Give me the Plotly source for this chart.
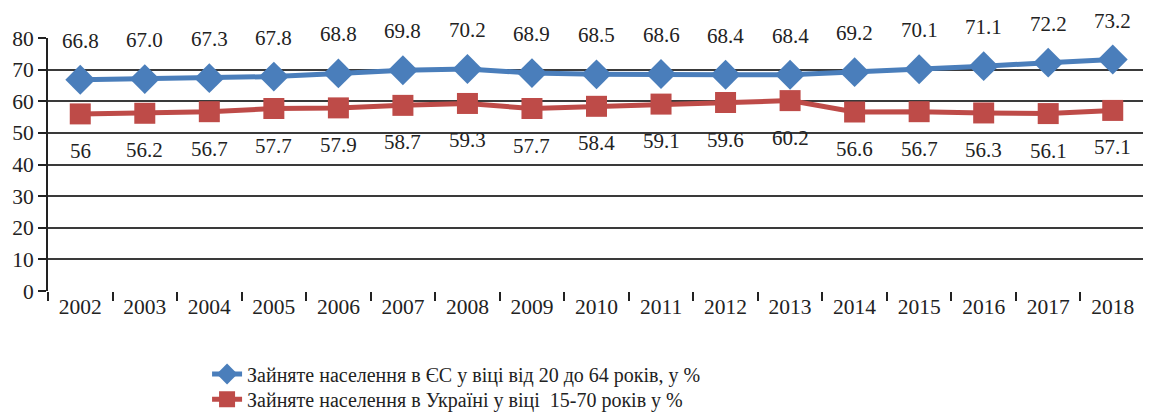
import plotly.graph_objects as go

years = ["2002", "2003", "2004", "2005", "2006", "2007", "2008", "2009", "2010",
         "2011", "2012", "2013", "2014", "2015", "2016", "2017", "2018"]
eu_values = [66.8, 67.0, 67.3, 67.8, 68.8, 69.8, 70.2, 68.9, 68.5, 68.6, 68.4, 68.4,
             69.2, 70.1, 71.1, 72.2, 73.2]
eu_labels = ["66.8", "67.0", "67.3", "67.8", "68.8", "69.8", "70.2", "68.9", "68.5",
             "68.6", "68.4", "68.4", "69.2", "70.1", "71.1", "72.2", "73.2"]
ua_values = [56, 56.2, 56.7, 57.7, 57.9, 58.7, 59.3, 57.7, 58.4, 59.1, 59.6, 60.2,
             56.6, 56.7, 56.3, 56.1, 57.1]
ua_labels = ["56", "56.2", "56.7", "57.7", "57.9", "58.7", "59.3", "57.7", "58.4",
             "59.1", "59.6", "60.2", "56.6", "56.7", "56.3", "56.1", "57.1"]
y_ticks = [0, 10, 20, 30, 40, 50, 60, 70, 80]

eu_name = "Зайняте населення в ЄС у віці від 20 до 64 років, у %"
ua_name = "Зайняте населення в Україні у віці  15-70 років у %"

FONT = '"Liberation Serif", "Times New Roman", serif'
xs = list(range(len(years)))

fig = go.Figure()
fig.add_trace(go.Scatter(
    x=xs, y=eu_values, name=eu_name, mode="lines+markers", legend="legend",
    line=dict(color="#4A7EBB", width=5),
    marker=dict(symbol="diamond", size=23, color="#4A7EBB"),
))
fig.add_trace(go.Scatter(
    x=xs, y=ua_values, name=ua_name, mode="lines+markers", legend="legend2",
    line=dict(color="#BE4B48", width=5),
    marker=dict(symbol="square", size=21, color="#BE4B48"),
))

for x, v, t in zip(xs, eu_values, eu_labels):
    fig.add_annotation(x=x, y=v, text=t, showarrow=False, yshift=39,
                       font=dict(family=FONT, size=21, color="#222"))
for x, v, t in zip(xs, ua_values, ua_labels):
    fig.add_annotation(x=x, y=v, text=t, showarrow=False, yshift=-37,
                       font=dict(family=FONT, size=21, color="#222"))

legend_common = dict(xanchor="left", yanchor="middle",
                     font=dict(family=FONT, size=20, color="#222"),
                     itemwidth=30, bgcolor="rgba(0,0,0,0)")

fig.update_layout(
    width=1143, height=406,
    margin=dict(l=40, r=6, t=30, b=123, autoexpand=False),
    paper_bgcolor="white", plot_bgcolor="white",
    font=dict(family=FONT, size=21, color="#222"),
    showlegend=True,
    legend=dict(x=0.145, y=-0.328, **legend_common),
    legend2=dict(x=0.145, y=-0.428, **legend_common),
)
fig.update_xaxes(
    range=[-0.5, len(years) - 0.5],
    tickmode="array", tickvals=xs, ticktext=years,
    ticks="", showgrid=False, zeroline=False,
    showline=False,
    tickfont=dict(family=FONT, size=21.5, color="#222"),
    minor=dict(ticks="outside", ticklen=9, tickwidth=2, tickcolor="#222",
               tick0=-0.5, dtick=1, showgrid=False),
)
fig.update_yaxes(
    range=[0, 80], tickmode="array", tickvals=y_ticks,
    ticks="outside", ticklen=8, tickwidth=2, tickcolor="#222",
    showgrid=True, gridcolor="#3a3a3a", gridwidth=2,
    zeroline=False, showline=True, linecolor="#222", linewidth=2,
    tickfont=dict(family=FONT, size=21.5, color="#222"),
)

fig.write_html("out.html")
